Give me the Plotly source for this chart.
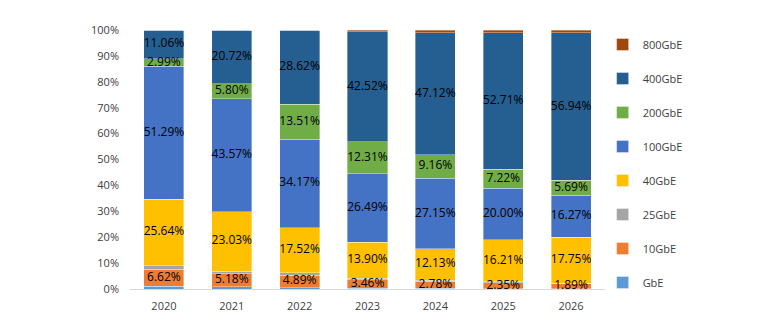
import plotly.graph_objects as go

years = ["2020", "2021", "2022", "2023", "2024", "2025", "2026"]
series_names = ["GbE", "10GbE", "25GbE", "40GbE", "100GbE", "200GbE", "400GbE", "800GbE"]
gbe      = [1.1, 0.8, 0.5, 0.2, 0.2, 0.1, 0.1]
g10      = [6.62, 5.18, 4.89, 3.46, 2.78, 2.35, 1.89]
g25      = [1.3, 0.9, 0.79, 0.5, 0.46, 0.3, 0.26]
g40      = [25.64, 23.03, 17.52, 13.90, 12.13, 16.21, 17.75]
g100     = [51.29, 43.57, 34.17, 26.49, 27.15, 20.00, 16.27]
g200     = [2.99, 5.80, 13.51, 12.31, 9.16, 7.22, 5.69]
g400     = [11.06, 20.72, 28.62, 42.52, 47.12, 52.71, 56.94]
g800     = [0.0, 0.0, 0.0, 0.6, 1.0, 1.1, 1.1]
colors = ["#5B9BD5", "#ED7D31", "#A5A5A5", "#FFC000", "#4472C4", "#70AD47", "#255E91", "#9E480E"]
labeled = [False, True, False, True, True, True, True, False]

values = [gbe, g10, g25, g40, g100, g200, g400, g800]

fig = go.Figure()
n = len(series_names)
for i, (name, vals, col) in enumerate(zip(series_names, values, colors)):
    fig.add_trace(go.Bar(
        x=years, y=vals, name=name, legendgroup=name, legendrank=n - i,
        marker=dict(color=col, line=dict(color="rgba(255,255,255,0.6)", width=0.6)),
        hoverinfo="skip",
    ))

# labels on top, at the middle of each labeled segment
lx, ly, lt = [], [], []
base = [0.0] * len(years)
for vals, lab in zip(values, labeled):
    for j, v in enumerate(vals):
        if lab:
            lx.append(years[j])
            ly.append(base[j] + v / 2)
            lt.append(f"{v:.2f}%")
        base[j] += v
fig.add_trace(go.Scatter(
    x=lx, y=ly, text=lt, mode="text", showlegend=False, hoverinfo="skip",
    cliponaxis=False,
    textfont=dict(family="Open Sans, Liberation Sans, sans-serif", size=12, color="#000000"),
))

fig.update_layout(
    width=778, height=327,
    barmode="stack", bargap=0.41,
    margin=dict(l=130, r=173, t=30, b=38),
    paper_bgcolor="white", plot_bgcolor="white",
    font=dict(family="Open Sans, Liberation Sans, sans-serif", size=11, color="#404040"),
    legend=dict(
        traceorder="grouped", x=0.995, xanchor="left", y=1.0, yanchor="top",
        tracegroupgap=15, font=dict(size=11, color="#404040"),
        itemwidth=30, bgcolor="rgba(0,0,0,0)", maxheight=327,
    ),
    showlegend=True,
)
fig.update_yaxes(range=[0, 100], tickvals=list(range(0, 101, 10)),
                 ticktext=[f"{v}%" for v in range(0, 101, 10)],
                 showgrid=False, zeroline=False, showline=False, ticks="",
                 ticklabelstandoff=10,
                 tickfont=dict(size=11, color="#404040"))
fig.update_xaxes(showline=True, linecolor="#D9D9D9", linewidth=1, ticks="",
                 ticklabelstandoff=7,
                 tickfont=dict(size=11, color="#404040"))

fig.write_html("out.html")
